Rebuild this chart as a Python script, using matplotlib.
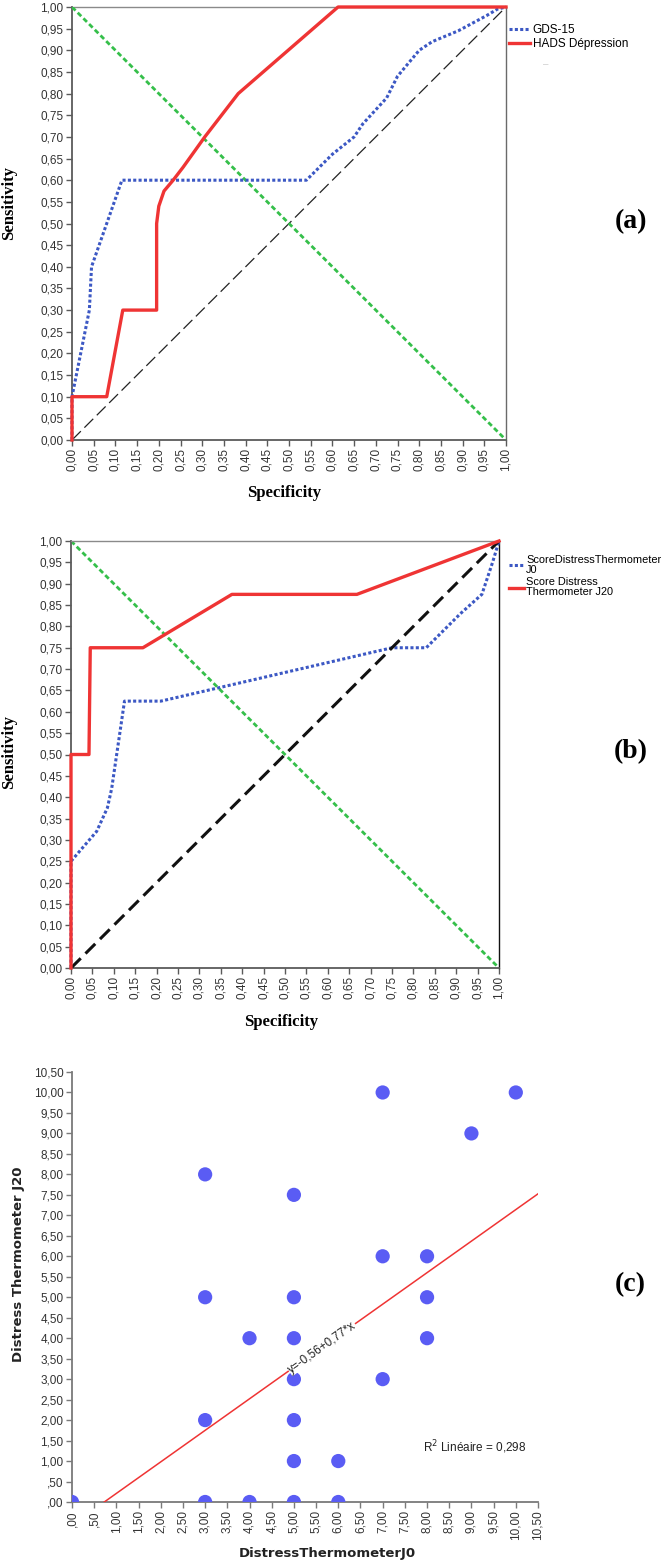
import matplotlib
matplotlib.use('Agg')
import matplotlib.pyplot as plt
import numpy as np

plt.rcParams['font.family'] = ['Liberation Sans', 'DejaVu Sans']

# ---------------- data ----------------
# Panel (a)
gds_x = [0.0, 0.0, 0.02, 0.04, 0.045, 0.115, 0.54, 0.60, 0.65, 0.67, 0.725, 0.75, 0.80, 0.83, 0.89, 0.955, 0.98, 1.0]
gds_y = [0.0, 0.10, 0.20, 0.30, 0.40, 0.60, 0.60, 0.66, 0.70, 0.73, 0.79, 0.84, 0.90, 0.92, 0.945, 0.98, 0.995, 1.0]
hads_x = [0.0, 0.0, 0.08, 0.117, 0.195, 0.195, 0.200, 0.212, 0.233, 0.256, 0.306, 0.383, 0.613, 1.0]
hads_y = [0.0, 0.10, 0.10, 0.30, 0.30, 0.50, 0.54, 0.575, 0.60, 0.63, 0.70, 0.80, 1.0, 1.0]

# Panel (b)
j0_x = [0.0, 0.0, 0.06, 0.085, 0.095, 0.125, 0.21, 0.75, 0.83, 0.91, 0.96, 0.985, 1.0]
j0_y = [0.0, 0.25, 0.32, 0.375, 0.42, 0.625, 0.625, 0.75, 0.75, 0.83, 0.875, 0.95, 1.0]
j20_x = [0.0, 0.0, 0.042, 0.045, 0.168, 0.376, 0.668, 1.0]
j20_y = [0.0, 0.50, 0.50, 0.75, 0.75, 0.875, 0.875, 1.0]

# Panel (c)
dt_j0 = [0, 3, 4, 5, 6, 3, 3, 3, 4, 5, 5, 5, 5, 5, 5, 6, 7, 7, 7, 8, 8, 8, 9, 10]
dt_j20 = [0, 0, 0, 0, 0, 2, 5, 8, 4, 1, 2, 3, 4, 5, 7.5, 1, 3, 6, 10, 4, 5, 6, 9, 10]
fit_intercept = -0.56
fit_slope = 0.77
r2 = 0.298

roc_ticks = [i * 0.05 for i in range(21)]
sc_ticks = [i * 0.5 for i in range(22)]

# ---------------- styling ----------------
W, H = 664, 1561
fig = plt.figure(figsize=(W / 100, H / 100), dpi=100)

RED = '#ef3434'
BLUE = '#3c58c4'
GREEN = '#35bf4a'
DOT = '#5a5cf4'
TICKC = '#333333'
SPINE = '#5a5a5a'


def px_axes(l, t, r, b):
    return fig.add_axes([l / W, 1 - b / H, (r - l) / W, (b - t) / H])


def fmt(v, lead=True):
    s = f"{v:.2f}".replace('.', ',')
    if not lead and s.startswith('0'):
        s = s[1:]
    return s


def style_axes(ax, ticks, lead, right_color, top_color, spinec=SPINE):
    ax.set_xticks(ticks)
    ax.set_yticks(ticks)
    ax.set_xticklabels([fmt(t, lead) for t in ticks], rotation=90, fontsize=8.5, color=TICKC)
    ax.set_yticklabels([fmt(t, lead) for t in ticks], fontsize=8.5, color=TICKC)
    ax.tick_params(direction='out', length=4, width=1.0, color=spinec, pad=2)
    ax.spines['left'].set_color(spinec)
    ax.spines['bottom'].set_color(spinec)
    ax.spines['left'].set_linewidth(1.3)
    ax.spines['bottom'].set_linewidth(1.3)
    if right_color is None:
        ax.spines['right'].set_visible(False)
    else:
        ax.spines['right'].set_color(right_color)
        ax.spines['right'].set_linewidth(1.0)
    if top_color is None:
        ax.spines['top'].set_visible(False)
    else:
        ax.spines['top'].set_color(top_color)
        ax.spines['top'].set_linewidth(1.0)


serif_bold = dict(family=['Liberation Serif', 'DejaVu Serif'], fontweight='bold')

# ---------------- panel (a) ----------------
ax_a = px_axes(72, 7, 506, 440)
ax_a.set_xlim(0, 1)
ax_a.set_ylim(0, 1)
style_axes(ax_a, roc_ticks, True, '#6a6a6a', '#8a8a8a')
ax_a.plot([0, 1], [0, 1], color='#222222', lw=0.9, dashes=(10, 4), zorder=2)
ax_a.plot([0, 1], [1, 0], color=GREEN, lw=2.0, dashes=(1.8, 1.1), zorder=3)
la1, = ax_a.plot(gds_x, gds_y, color=BLUE, lw=2.2, dashes=(1, 0.75), clip_on=False, zorder=4, label='GDS-15')
la2, = ax_a.plot(hads_x, hads_y, color=RED, lw=2.4, clip_on=False, zorder=5, label='HADS Dépression')
leg = ax_a.legend(handles=[la1, la2], loc='upper left', bbox_to_anchor=(1.007, 0.96), frameon=False,
                  fontsize=8.5, borderpad=0, borderaxespad=0, handlelength=1.8, handletextpad=0.2,
                  labelspacing=0.15)
ax_a.text(1.085, 0.862, '\u2013', transform=ax_a.transAxes, color='#cfcfcf', fontsize=7)
ax_a.set_xlabel('Specificity', fontsize=12, **serif_bold)
ax_a.set_ylabel('Sensitivity', fontsize=12, **serif_bold)
ax_a.xaxis.set_label_coords(0.488, -0.104)
ax_a.yaxis.set_label_coords(-0.127, 0.547)

# ---------------- panel (b) ----------------
ax_b = px_axes(71, 541, 499, 968)
ax_b.set_xlim(0, 1)
ax_b.set_ylim(0, 1)
style_axes(ax_b, roc_ticks, True, '#111111', '#8a8a8a')
ax_b.plot([0, 1], [1, 0], color=GREEN, lw=2.0, dashes=(1.8, 1.1), zorder=2)
lb1, = ax_b.plot(j0_x, j0_y, color=BLUE, lw=2.2, dashes=(1, 0.75), clip_on=False, zorder=3,
                 label='ScoreDistressThermometer\nJ0')
ax_b.plot([0, 1], [0, 1], color='#111111', lw=2.2, dashes=(4.5, 2.2), zorder=4)
lb2, = ax_b.plot(j20_x, j20_y, color=RED, lw=2.4, clip_on=False, zorder=5,
                 label='Score Distress\nThermometer J20')
legb = ax_b.legend(handles=[lb1, lb2], loc='upper left', bbox_to_anchor=(1.024, 0.968), frameon=False,
                   fontsize=7.9, borderpad=0, borderaxespad=0, handlelength=1.35, handletextpad=0.2,
                   labelspacing=0.25)
for t in legb.get_texts():
    t.set_linespacing(1.0)
ax_b.set_xlabel('Specificity', fontsize=12, **serif_bold)
ax_b.set_ylabel('Sensitivity', fontsize=12, **serif_bold)
ax_b.xaxis.set_label_coords(0.49, -0.108)
ax_b.yaxis.set_label_coords(-0.126, 0.506)

# ---------------- panel (c) ----------------
ax_c = px_axes(72, 1072, 538, 1502)
ax_c.set_xlim(0, 10.5)
ax_c.set_ylim(0, 10.5)
style_axes(ax_c, sc_ticks, False, None, None, spinec='#7a7a7a')
ax_c.scatter(dt_j0, dt_j20, s=105, color=DOT, edgecolors='none', zorder=3)
x0 = -fit_intercept / fit_slope
fx = np.array([x0, 10.5])
ax_c.plot(fx, fit_intercept + fit_slope * fx, color=RED, lw=1.1, zorder=4)
xm = 5.63
ax_c.text(xm, fit_intercept + fit_slope * xm,
          'y=-0,56+0,77*x',
          rotation=np.degrees(np.arctan(fit_slope)), transform_rotates_text=True,
          rotation_mode='anchor', ha='center', va='center', fontsize=8.5, color='#222222',
          bbox=dict(facecolor='white', edgecolor='none', pad=0.3), zorder=5)
ax_c.text(7.9, 1.34, 'R$^{2}$ Linéaire = ' + f"{r2:.3f}".replace('.', ','), fontsize=8.5,
          color='#222222', va='center', ha='left')
lab_font = dict(family='DejaVu Sans', fontweight='bold')
ax_c.set_xlabel('DistressThermometerJ0', fontsize=9.5, color='#222222', **lab_font)
ax_c.set_ylabel('Distress Thermometer J20', fontsize=9.5, color='#222222', **lab_font)
ax_c.xaxis.set_label_coords(0.547, -0.105)
ax_c.yaxis.set_label_coords(-0.10, 0.553)

# ---------------- panel tags ----------------
tag_font = dict(family=['Liberation Serif', 'DejaVu Serif'], fontweight='bold', fontsize=20,
                ha='center', va='center')
fig.text(631 / W, 1 - 222 / H, '(a)', **tag_font)
fig.text(631 / W, 1 - 752 / H, '(b)', **tag_font)
fig.text(630 / W, 1 - 1285 / H, '(c)', **tag_font)

fig.savefig('out.png', dpi=100)
